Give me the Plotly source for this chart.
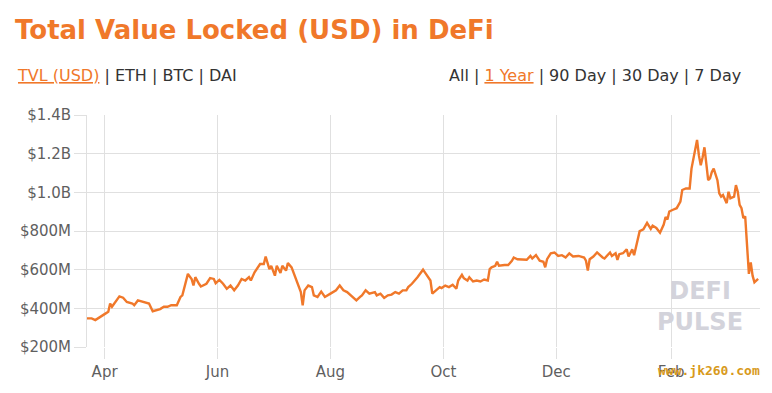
import plotly.graph_objects as go

dates = [
    "2019-03-22", "2019-03-25", "2019-03-27", "2019-03-30", "2019-04-01", "2019-04-03",
    "2019-04-04", "2019-04-05", "2019-04-07", "2019-04-09", "2019-04-11", "2019-04-13",
    "2019-04-16", "2019-04-17", "2019-04-19", "2019-04-22", "2019-04-25", "2019-04-27",
    "2019-04-29", "2019-05-01", "2019-05-03", "2019-05-05", "2019-05-07", "2019-05-10",
    "2019-05-12", "2019-05-13", "2019-05-16", "2019-05-18", "2019-05-19", "2019-05-20",
    "2019-05-22", "2019-05-23", "2019-05-26", "2019-05-28", "2019-05-30", "2019-05-31",
    "2019-06-02", "2019-06-04", "2019-06-06", "2019-06-08", "2019-06-10", "2019-06-12",
    "2019-06-14", "2019-06-16", "2019-06-18", "2019-06-19", "2019-06-21", "2019-06-24",
    "2019-06-26", "2019-06-27", "2019-06-29", "2019-06-30", "2019-07-02", "2019-07-03",
    "2019-07-05", "2019-07-06", "2019-07-08", "2019-07-09", "2019-07-11", "2019-07-13",
    "2019-07-14", "2019-07-16", "2019-07-17", "2019-07-18", "2019-07-20", "2019-07-22",
    "2019-07-23", "2019-07-25", "2019-07-27", "2019-07-29", "2019-08-01", "2019-08-04",
    "2019-08-06", "2019-08-08", "2019-08-10", "2019-08-12", "2019-08-15", "2019-08-17",
    "2019-08-18", "2019-08-20", "2019-08-22", "2019-08-25", "2019-08-26", "2019-08-28",
    "2019-08-30", "2019-09-01", "2019-09-03", "2019-09-05", "2019-09-07", "2019-09-09",
    "2019-09-11", "2019-09-12", "2019-09-14", "2019-09-17", "2019-09-20", "2019-09-21",
    "2019-09-24", "2019-09-25", "2019-09-27", "2019-09-29", "2019-09-30", "2019-10-02",
    "2019-10-04", "2019-10-06", "2019-10-08", "2019-10-09", "2019-10-11", "2019-10-12",
    "2019-10-14", "2019-10-15", "2019-10-17", "2019-10-19", "2019-10-21", "2019-10-23",
    "2019-10-25", "2019-10-26", "2019-10-27", "2019-10-29", "2019-10-30", "2019-10-31",
    "2019-11-03", "2019-11-05", "2019-11-07", "2019-11-08", "2019-11-10", "2019-11-12",
    "2019-11-15", "2019-11-17", "2019-11-18", "2019-11-20", "2019-11-22", "2019-11-24",
    "2019-11-25", "2019-11-26", "2019-11-28", "2019-11-30", "2019-12-02", "2019-12-04",
    "2019-12-06", "2019-12-08", "2019-12-10", "2019-12-13", "2019-12-16", "2019-12-17",
    "2019-12-18", "2019-12-19", "2019-12-21", "2019-12-23", "2019-12-25", "2019-12-26",
    "2019-12-27", "2019-12-30", "2019-12-31", "2020-01-02", "2020-01-03", "2020-01-04",
    "2020-01-06", "2020-01-08", "2020-01-09", "2020-01-11", "2020-01-12", "2020-01-13",
    "2020-01-15", "2020-01-17", "2020-01-19", "2020-01-21", "2020-01-22", "2020-01-24",
    "2020-01-26", "2020-01-28", "2020-01-29", "2020-01-30", "2020-01-31", "2020-02-02",
    "2020-02-04", "2020-02-06", "2020-02-07", "2020-02-09", "2020-02-11", "2020-02-12",
    "2020-02-13", "2020-02-14", "2020-02-15", "2020-02-16", "2020-02-17", "2020-02-18",
    "2020-02-19", "2020-02-20", "2020-02-21", "2020-02-22", "2020-02-23", "2020-02-24",
    "2020-02-26", "2020-02-27", "2020-02-28", "2020-02-29", "2020-03-02", "2020-03-03",
    "2020-03-04", "2020-03-06", "2020-03-07", "2020-03-08", "2020-03-09", "2020-03-10",
    "2020-03-11", "2020-03-12", "2020-03-13", "2020-03-14", "2020-03-15", "2020-03-16",
    "2020-03-17", "2020-03-18", "2020-03-19",
]

tvl_musd = [
    348, 348, 339, 360, 370, 382,
    425, 408, 433, 462, 455, 433,
    425, 416, 441, 433, 425, 385,
    390, 396, 408, 408, 416, 416,
    459, 467, 578, 552, 518, 561,
    527, 513, 527, 556, 552, 530,
    547, 527, 501, 518, 493, 518,
    552, 544, 561, 544, 586, 629,
    629, 668, 603, 620, 569, 620,
    583, 620, 595, 634, 612, 561,
    535, 484, 416, 493, 518, 510,
    467, 459, 487, 459, 476, 493,
    518, 493, 484, 467, 441, 459,
    467, 493, 476, 484, 467, 476,
    454, 467, 471, 484, 476, 493,
    493, 510, 527, 561, 600, 586,
    544, 476, 493, 510, 505, 518,
    510, 522, 501, 544, 573, 556,
    544, 561, 539, 544, 539, 549,
    544, 603, 612, 620, 641, 620,
    624, 624, 646, 663, 654, 654,
    651, 671, 658, 675, 646, 641,
    612, 654, 685, 689, 671, 675,
    663, 684, 668, 671, 663, 646,
    595, 654, 668, 689, 668, 663,
    658, 689, 671, 685, 651, 680,
    685, 705, 668, 705, 675, 714,
    799, 808, 842, 811, 828, 816,
    791, 833, 872, 859, 901, 910,
    918, 952, 1012, 1020, 1020, 1123,
    1174, 1216, 1271, 1191, 1140, 1182,
    1233, 1148, 1063, 1072, 1105, 1123,
    1063, 995, 978, 986, 944, 1003,
    969, 978, 1037, 1003, 935, 918,
    867, 876, 705, 578, 638, 569,
    535, 544, 552,
]

y_tick_vals = [200, 400, 600, 800, 1000, 1200, 1400]
y_tick_text = ["$200M", "$400M", "$600M", "$800M", "$1.0B", "$1.2B", "$1.4B"]
x_tick_vals = ["2019-04-01", "2019-06-01", "2019-08-01", "2019-10-01", "2019-12-01", "2020-02-01"]
x_tick_text = ["Apr", "Jun", "Aug", "Oct", "Dec", "Feb"]

ORANGE = "#f0782a"
GRID = "#e0e0e0"
AXIS_TXT = "#5f5f5f"
TICK_FONT = dict(family="DejaVu Sans", size=15, color=AXIS_TXT)

fig = go.Figure()
fig.add_trace(go.Scatter(
    x=dates, y=tvl_musd, mode="lines",
    line=dict(color=ORANGE, width=2.4),
    hoverinfo="skip", showlegend=False,
))

# the page body has an 8px margin, so the figure is 8px smaller and offset
fig.update_layout(
    width=764, height=385,
    margin=dict(l=77, r=12, t=107, b=44),
    paper_bgcolor="white", plot_bgcolor="white",
    xaxis=dict(
        type="date", range=["2019-03-22 12:00", "2020-03-20"],
        tickvals=x_tick_vals, ticktext=x_tick_text,
        showgrid=True, gridcolor=GRID, gridwidth=1,
        ticks="outside", ticklen=11, tickcolor=GRID,
        showline=False, zeroline=False,
        tickfont=TICK_FONT,
    ),
    yaxis=dict(
        range=[200, 1400],
        tickvals=y_tick_vals, ticktext=y_tick_text,
        showgrid=True, gridcolor=GRID, gridwidth=1,
        ticks="outside", ticklen=12, tickcolor=GRID,
        showline=True, linecolor=GRID, linewidth=1,
        zeroline=False,
        tickfont=TICK_FONT,
    ),
    font=dict(family="DejaVu Sans"),
)


def px_x(px):
    return (px - 85) / 675


def px_y(py):
    return (349 - py) / 234


fig.add_annotation(
    xref="paper", yref="paper", x=px_x(11), y=px_y(29),
    xanchor="left", yanchor="middle", showarrow=False,
    text="Total Value Locked (USD) in DeFi",
    font=dict(family="DejaVu Sans", size=26, color=ORANGE, weight="bold"),
)
fig.add_annotation(
    xref="paper", yref="paper", x=px_x(13), y=px_y(75),
    xanchor="left", yanchor="middle", showarrow=False,
    text=("<span style='color:%s;text-decoration:underline'>TVL (USD)</span>"
          " | ETH | BTC | DAI") % ORANGE,
    font=dict(family="DejaVu Sans", size=16, color="#333333"),
)
fig.add_annotation(
    xref="paper", yref="paper", x=px_x(743), y=px_y(75),
    xanchor="right", yanchor="middle", showarrow=False,
    text=("All | <span style='color:%s;text-decoration:underline'>1 Year</span>"
          " | 90 Day | 30 Day | 7 Day") % ORANGE,
    font=dict(family="DejaVu Sans", size=16, color="#333333"),
)
fig.add_annotation(
    xref="paper", yref="paper", x=px_x(700), y=px_y(308),
    xanchor="center", yanchor="middle", showarrow=False,
    text="DEFI<br>PULSE", align="center",
    font=dict(family="DejaVu Sans", size=24, color="#d3d3db", weight="bold"),
)
fig.add_annotation(
    xref="paper", yref="paper", x=px_x(709), y=px_y(373),
    xanchor="center", yanchor="middle", showarrow=False,
    text="www.jk260.com",
    font=dict(family="DejaVu Sans Mono", size=13, color="#d89a1c", weight="bold"),
)

fig.write_html("out.html")
